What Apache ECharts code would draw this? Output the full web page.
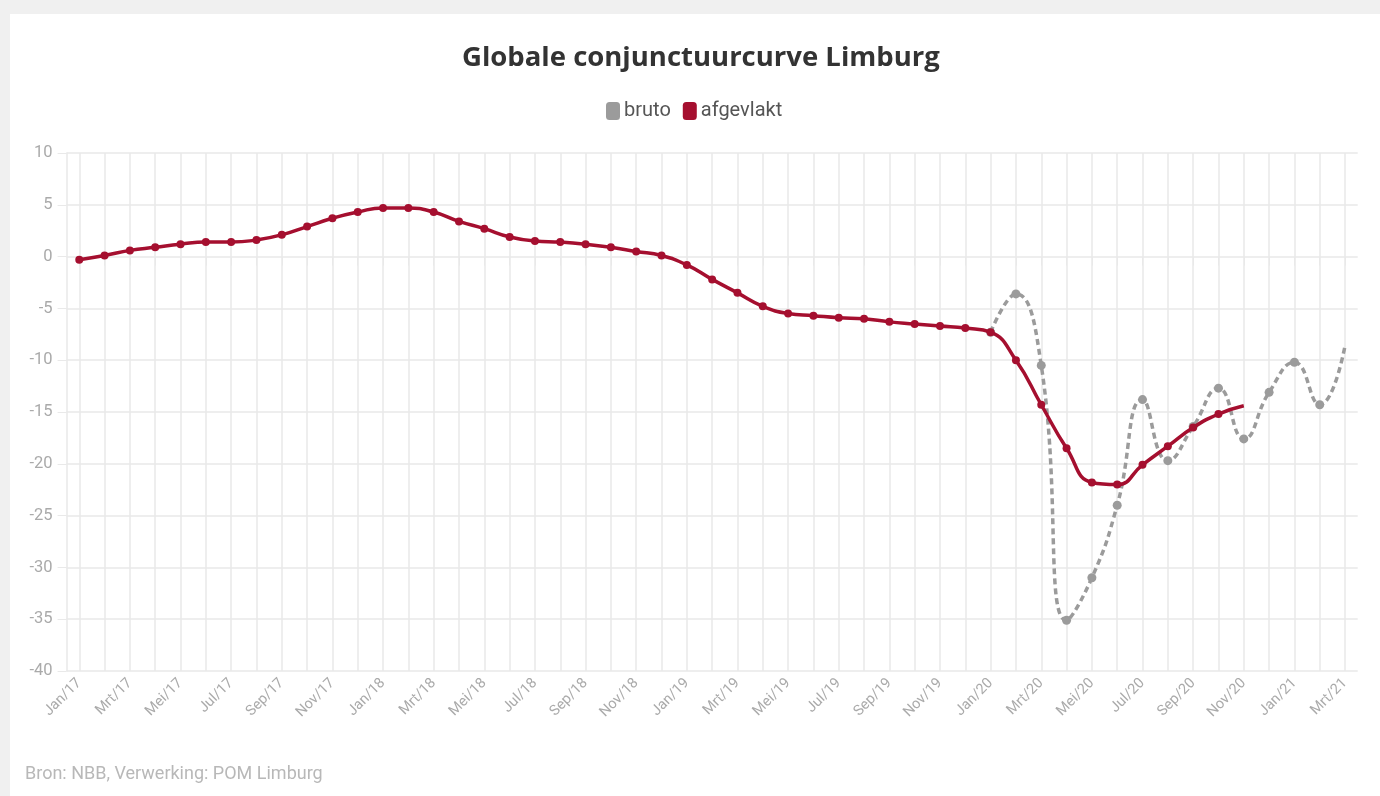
<!DOCTYPE html>
<html>
<head>
<meta charset="utf-8">
<title>Globale conjunctuurcurve Limburg</title>
<script src="https://cdn.jsdelivr.net/npm/echarts@6/dist/echarts.min.js"></script>
<style>
  html, body { margin: 0; padding: 0; background: #f0f0f0; width: 1380px; height: 796px; overflow: hidden; }
  .card { position: absolute; left: 10px; top: 14px; right: 0; bottom: 0; background: #fff; }
  #chart { position: absolute; left: 0; top: 0; width: 1380px; height: 796px; }
</style>
</head>
<body>
<div class="card"></div>
<div id="chart"></div>
<script>
// maanden Jan/17 .. Mrt/21
const monthNames = ["Jan", "Feb", "Mrt", "Apr", "Mei", "Jun", "Jul", "Aug", "Sep", "Okt", "Nov", "Dec"];
const years = ["17", "18", "19", "20", "21"];
const months = [];
years.forEach((y) => monthNames.forEach((m) => months.push(`${m}/${y}`)));
months.length = 51;

const afgevlakt = [
  -0.3, 0.1, 0.6, 0.9, 1.2, 1.4, 1.4, 1.6, 2.1, 2.9, 3.7, 4.3,
  4.7, 4.7, 4.3, 3.4, 2.7, 1.9, 1.5, 1.4, 1.2, 0.9, 0.5, 0.1,
  -0.8, -2.2, -3.5, -4.8, -5.5, -5.7, -5.9, -6.0, -6.3, -6.5, -6.7, -6.9,
  -7.3, -10.0, -14.3, -18.5, -21.8, -22.0, -20.1, -18.3, -16.5, -15.2, -14.4,
];

const bruto = [
  null, null, null, null, null, null, null, null, null, null, null, null,
  null, null, null, null, null, null, null, null, null, null, null, null,
  null, null, null, null, null, null, null, null, null, null, null, null,
  -7.3, -3.6, -10.5, -35.1, -31.0, -24.0, -13.8, -19.7, -16.4, -12.7, -17.6,
  -13.1, -10.2, -14.3, -8.6,
];

const yTicks = { min: -40, max: 10, interval: 5 };

const GRID = "#e9e9e9";
const RED = "#a50f2f";
const GREY = "#9b9b9b";

// laatste punt van elke reeks zonder marker
const lastNoSymbol = (arr) => arr.map((v, i) => (i === arr.length - 1 ? { value: v, symbol: "none" } : v));

const chart = echarts.init(document.getElementById("chart"));
chart.setOption({
  backgroundColor: "transparent",
  animation: false,
  title: [
    {
      text: "Globale conjunctuurcurve Limburg",
      left: 462,
      top: 44,
      padding: 0,
      textStyle: { fontFamily: "Open Sans", fontWeight: "bold", fontSize: 27.5, color: "#333" },
    },
    {
      text: "Bron: NBB, Verwerking: POM Limburg",
      left: 25,
      top: 765,
      padding: 0,
      textStyle: { fontFamily: "Roboto", fontWeight: "normal", fontSize: 18, color: "#b8b8b8" },
    },
  ],
  legend: {
    top: 96,
    left: 601,
    icon: "roundRect",
    itemWidth: 14,
    itemHeight: 18,
    itemGap: 12,
    textStyle: { fontFamily: "Roboto", fontSize: 20, color: "#555", padding: [0, 0, 0, -1] },
    data: ["bruto", "afgevlakt"],
  },
  grid: { left: 66.6, right: 22.3, top: 153, bottom: 125, containLabel: false },
  xAxis: {
    type: "category",
    data: months,
    boundaryGap: true,
    axisLine: { show: false },
    axisTick: { show: true, alignWithLabel: true, interval: 0, length: 9, lineStyle: { color: GRID } },
    axisLabel: { interval: 1, rotate: 45, margin: 10, fontFamily: "Roboto", fontSize: 14.5, color: "#aaa" },
    splitLine: { show: true, alignWithLabel: true, interval: 0, lineStyle: { color: GRID, width: 1.5 } },
  },
  yAxis: {
    type: "value",
    min: yTicks.min,
    max: yTicks.max,
    interval: yTicks.interval,
    axisLine: { show: true, lineStyle: { color: GRID, width: 1.5 } },
    axisTick: { show: true, length: 9, lineStyle: { color: GRID } },
    axisLabel: { margin: 14, fontFamily: "Roboto", fontSize: 16.5, color: "#aaa" },
    splitLine: { show: true, lineStyle: { color: GRID, width: 1.5 } },
  },
  series: [
    {
      name: "bruto",
      type: "line",
      smooth: true,
      data: lastNoSymbol(bruto),
      symbol: "circle",
      symbolSize: 9,
      lineStyle: { color: GREY, width: 3.5, type: [6, 4] },
      itemStyle: { color: GREY },
      z: 2,
    },
    {
      name: "afgevlakt",
      type: "line",
      smooth: true,
      data: lastNoSymbol(afgevlakt),
      symbol: "circle",
      symbolSize: 8,
      lineStyle: { color: RED, width: 3.5 },
      itemStyle: { color: RED },
      z: 3,
    },
  ],
});
</script>
</body>
</html>
